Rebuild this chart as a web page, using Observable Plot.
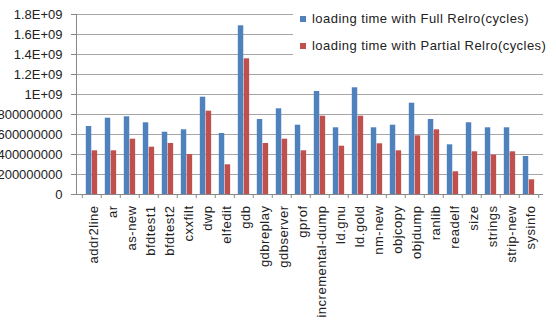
<!DOCTYPE html>
<html>
<head>
<meta charset="utf-8">
<script src="https://cdn.jsdelivr.net/npm/d3@7"></script>
<script src="https://cdn.jsdelivr.net/npm/@observablehq/plot@0.6"></script>
<style>
  html, body { margin: 0; padding: 0; background: #fff; }
  #wrap { position: relative; width: 556px; height: 322px; overflow: hidden; font-family: "Liberation Sans", Arial, sans-serif; }
  #legend { position: absolute; left: 293px; top: 0; width: 263px; height: 62px; background: #fff; }
  .row { position: absolute; left: 7px; height: 20px; font-size: 13px; letter-spacing: 0.45px; color: #222; white-space: nowrap; line-height: 20px; }
  .sw { display: inline-block; width: 6px; height: 6px; margin-right: 6px; vertical-align: 1px; }
</style>
</head>
<body>
<div id="wrap"></div>
<script>
const categories = ["addr2line","ar","as-new","bfdtest1","bfdtest2","cxxfilt","dwp","elfedit","gdb","gdbreplay","gdbserver","gprof","incremental-dump","ld.gnu","ld.gold","nm-new","objcopy","objdump","ranlib","readelf","size","strings","strip-new","sysinfo"];
const fullRelro = [0.68e9,0.763e9,0.777e9,0.717e9,0.623e9,0.647e9,0.973e9,0.61e9,1.687e9,0.75e9,0.857e9,0.693e9,1.03e9,0.667e9,1.067e9,0.667e9,0.693e9,0.913e9,0.75e9,0.497e9,0.717e9,0.667e9,0.667e9,0.38e9];
const partialRelro = [0.437e9,0.437e9,0.553e9,0.473e9,0.51e9,0.40e9,0.833e9,0.297e9,1.357e9,0.51e9,0.553e9,0.437e9,0.783e9,0.483e9,0.783e9,0.507e9,0.437e9,0.587e9,0.647e9,0.227e9,0.427e9,0.393e9,0.427e9,0.147e9];
const seriesNames = ["loading time with Full Relro(cycles)","loading time with Partial Relro(cycles)"];
const seriesColors = ["#4F81BD","#C0504D"];
const yTicks = [0,2e8,4e8,6e8,8e8,1e9,1.2e9,1.4e9,1.6e9,1.8e9];
const yTickLabels = ["0","200000000","400000000","600000000","800000000","1E+09","1.2E+09","1.4E+09","1.6E+09","1.8E+09"];

const rows = categories.map((c, i) => ({cat: c, full: fullRelro[i], partial: partialRelro[i]}));

const W = 556, H = 322, ML = 76, MR = 13, MT = 14, MB = 128;
const bw = (W - ML - MR) / categories.length;
const inL = 3.8, barW = 5.9;

const chart = Plot.plot({
  width: W, height: H,
  marginLeft: ML, marginRight: MR, marginTop: MT, marginBottom: MB,
  style: {fontFamily: "'Liberation Sans', Arial, sans-serif", fontSize: "13px", color: "#222", background: "#fff", overflow: "visible"},
  x: {type: "band", domain: categories, padding: 0, axis: null, label: null},
  y: {domain: [0, 1.8e9], axis: null, label: null},
  marks: [
    Plot.gridY(yTicks, {stroke: "#a6a6a6", strokeOpacity: 1}),
    Plot.barY(rows, {x: "cat", y: "full", fill: seriesColors[0], insetLeft: inL, insetRight: bw - inL - barW}),
    Plot.barY(rows, {x: "cat", y: "partial", fill: seriesColors[1], insetLeft: inL + barW, insetRight: bw - inL - 2 * barW}),
    Plot.ruleY([0], {stroke: "#888"}),
    Plot.frame({anchor: "left", stroke: "#888"}),
    Plot.axisY({ticks: yTicks, tickFormat: (d) => yTickLabels[yTicks.indexOf(d)], tickSize: 5, tickPadding: 9, stroke: "#888", fill: "#222", fontSize: 13, label: null}),
    Plot.axisX({ticks: categories, text: null, tickSize: 4, dx: -bw / 2, stroke: "#888", label: null}),
    Plot.axisX({ticks: [categories[categories.length - 1]], text: null, tickSize: 4, dx: bw / 2, stroke: "#888", label: null}),
    Plot.axisX({ticks: categories, tickSize: 0, tickPadding: 11, tickRotate: -90, textAnchor: "end", lineAnchor: "middle", dx: 2, fill: "#222", fontSize: 13, label: null})
  ]
});
const wrap = document.getElementById("wrap");
wrap.appendChild(chart);
chart.querySelectorAll("text").forEach(t => { if (t.getAttribute("transform") && t.getAttribute("transform").includes("rotate")) t.setAttribute("letter-spacing", "0.5"); });

const legend = document.createElement("div");
legend.id = "legend";
seriesNames.forEach((name, i) => {
  const r = document.createElement("div");
  r.className = "row";
  r.style.top = (9 + i * 26.5) + "px";
  const sw = document.createElement("span");
  sw.className = "sw";
  sw.style.background = seriesColors[i];
  r.appendChild(sw);
  r.appendChild(document.createTextNode(name));
  legend.appendChild(r);
});
wrap.appendChild(legend);
</script>
</body>
</html>
